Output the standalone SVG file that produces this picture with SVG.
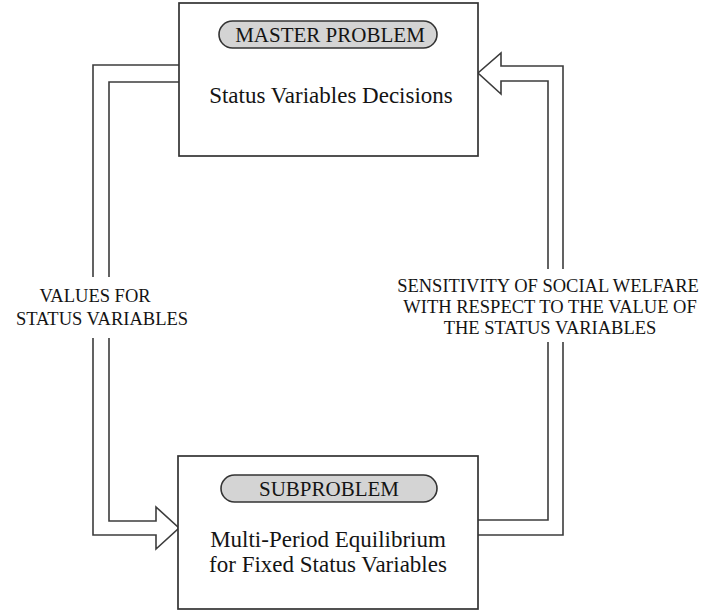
<svg xmlns="http://www.w3.org/2000/svg" width="703" height="611" viewBox="0 0 703 611">
<style>
.box{fill:#fff;stroke:#333;stroke-width:1.7}
.pill{fill:#d4d4d4;stroke:#333;stroke-width:1.6}
.conn{fill:none;stroke:#3c3c3c;stroke-width:1.6;stroke-linejoin:miter}
text{font-family:"Liberation Serif","Times New Roman",serif;fill:#141414;text-anchor:middle}
.pt{font-size:21px}
.bt{font-size:23px}
.lt{font-size:18.5px}
</style>
<rect width="703" height="611" fill="#fff"/>
<g id="connectors">
  <path class="conn" d="M179,65 H93 V277 M93,338 V535 H156 V549 L179,528 L156,507 V521 H109 V338 M109,277 V82 H179"/>
  <path class="conn" d="M478,520 H548 V342 M548,269 V81 H501 V94 L478,73 L501,53 V66 H563 V269 M563,342 V535 H478"/>
</g>
<g id="master">
  <rect class="box" x="179" y="3" width="299" height="153"/>
  <rect class="pill" x="219" y="21" width="218" height="27" rx="13.5"/>
  <text class="pt" x="330" y="42">MASTER PROBLEM</text>
  <text class="bt" x="331" y="103">Status Variables Decisions</text>
</g>
<g id="subproblem">
  <rect class="box" x="178" y="456" width="300" height="153"/>
  <rect class="pill" x="221" y="475" width="216" height="27" rx="13.5"/>
  <text class="pt" x="329" y="496">SUBPROBLEM</text>
  <text class="bt" x="328" y="547">Multi-Period Equilibrium</text>
  <text class="bt" x="328" y="572">for Fixed Status Variables</text>
</g>
<g id="label-values">
  <text class="lt" x="95" y="302">VALUES FOR</text>
  <text class="lt" x="102" y="325">STATUS VARIABLES</text>
</g>
<g id="label-sensitivity">
  <text class="lt" x="548" y="292">SENSITIVITY OF SOCIAL WELFARE</text>
  <text class="lt" x="550" y="313">WITH RESPECT TO THE VALUE OF</text>
  <text class="lt" x="550" y="334">THE STATUS VARIABLES</text>
</g>
</svg>
